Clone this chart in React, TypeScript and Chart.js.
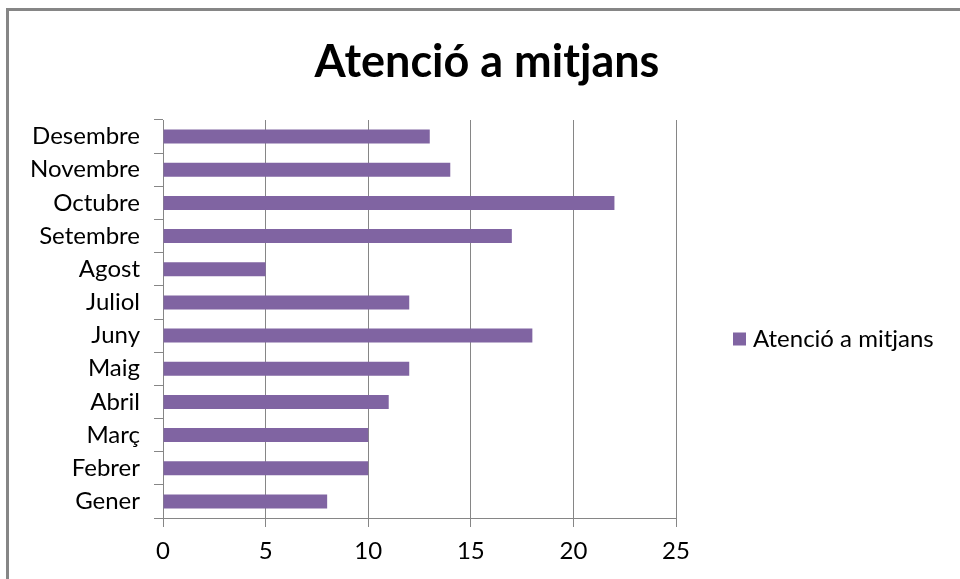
import React, { useEffect, useRef } from "react";
import { Chart, registerables } from "chart.js";

Chart.register(...registerables);

const categories = ["Gener", "Febrer", "Març", "Abril", "Maig", "Juny", "Juliol", "Agost", "Setembre", "Octubre", "Novembre", "Desembre"];
const seriesName = "Atenció a mitjans";
const values = [8, 10, 10, 11, 12, 18, 12, 5, 17, 22, 14, 13];
const xTicks = [0, 5, 10, 15, 20, 25];

const FONT = "Lato, 'Noto Sans', sans-serif";
const BAR_COLOR = "#8064A2";

const borderPlugin = {
  id: "outerBorder",
  beforeDraw(chart: any) {
    const ctx = chart.ctx;
    ctx.save();
    ctx.fillStyle = "#ffffff";
    ctx.fillRect(0, 0, chart.width, chart.height);
    ctx.strokeStyle = "#868686";
    ctx.lineWidth = 3;
    ctx.strokeRect(7.5, 9.5, 1200, 1200);
    ctx.restore();
  },
};

// Legend on the right, placed relative to the chart area
const sideLegendPlugin = {
  id: "sideLegend",
  afterDraw(chart: any) {
    const ctx = chart.ctx;
    const area = chart.chartArea;
    const ds = chart.data.datasets[0];
    const cy = (area.top + area.bottom) / 2 + 20;
    const x = area.right + 57;
    ctx.save();
    ctx.fillStyle = ds.backgroundColor;
    ctx.fillRect(x, cy - 6.5, 13, 13);
    ctx.fillStyle = "#000000";
    ctx.font = `24px ${FONT}`;
    ctx.textBaseline = "middle";
    ctx.textAlign = "left";
    ctx.fillText(ds.label, x + 20, cy);
    ctx.restore();
  },
};

export default function App() {
  const ref = useRef<HTMLCanvasElement | null>(null);
  useEffect(() => {
    document.body.style.margin = "0";
    document.body.style.overflow = "hidden";
    const chart = new Chart(ref.current as HTMLCanvasElement, {
      type: "bar",
      data: {
        labels: categories,
        datasets: [
          {
            label: seriesName,
            data: values,
            backgroundColor: BAR_COLOR,
            borderWidth: 0,
            categoryPercentage: 0.42,
            barPercentage: 1,
          },
        ],
      },
      options: {
        indexAxis: "y",
        animation: false,
        responsive: false,
        maintainAspectRatio: false,
        layout: { padding: { top: 10, right: 0, bottom: 0, left: 14 } },
        plugins: {
          title: {
            display: true,
            text: seriesName,
            color: "#000000",
            font: { family: FONT, size: 45, weight: "bold", lineHeight: 1.2 },
            padding: { top: 25, bottom: 31 },
          },
          legend: { display: false },
          tooltip: { enabled: false },
        },
        scales: {
          x: {
            min: 0,
            max: 25,
            afterBuildTicks(scale: any) {
              scale.ticks = xTicks.map((v) => ({ value: v }));
            },
            afterFit(scale: any) {
              scale.height = 61;
            },
            grid: { color: "#868686", lineWidth: 1, tickLength: 9, drawTicks: true },
            border: { display: true, color: "#868686", width: 1 },
            ticks: { color: "#000000", padding: 10, font: { family: FONT, size: 24 } },
          },
          y: {
            reverse: true,
            afterFit(scale: any) {
              scale.width = 149;
            },
            grid: { offset: true, drawOnChartArea: false, drawTicks: true, tickLength: 9, color: "#868686" },
            border: { display: true, color: "#868686", width: 1 },
            ticks: { color: "#000000", padding: 14, font: { family: FONT, size: 24 } },
          },
          legendSpace: {
            type: "linear",
            axis: "y",
            position: "right",
            display: true,
            ticks: { display: false },
            grid: { display: false, drawTicks: false },
            border: { display: false },
            afterFit(scale: any) {
              scale.width = 284;
            },
          },
        },
      },
      plugins: [borderPlugin, sideLegendPlugin],
    });
    return () => chart.destroy();
  }, []);
  return <canvas ref={ref} width={960} height={579} style={{ display: "block" }} />;
}
